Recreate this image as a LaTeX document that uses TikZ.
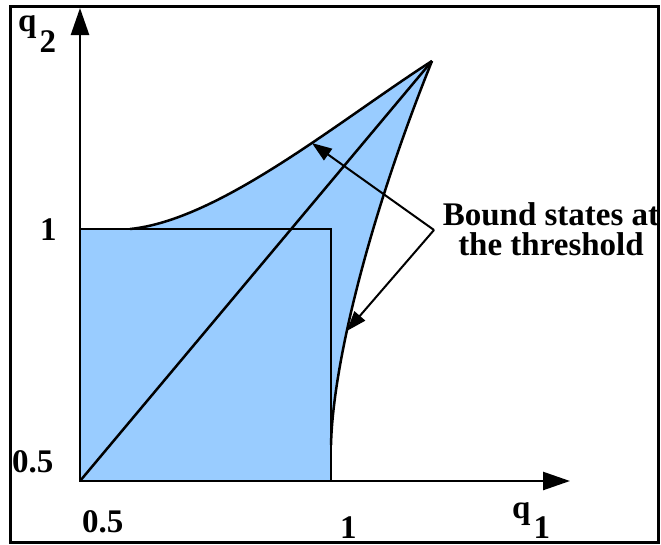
\documentclass[tikz,border=0pt]{standalone}
\usepackage{fontspec}
\setmainfont{Liberation Serif}
\usetikzlibrary{arrows.meta, positioning}
\definecolor{region}{RGB}{153,204,255}

\begin{document}
\begin{tikzpicture}[
  x=1pt, y=-1pt,
  every node/.style={font=\fontsize{33}{30}\selectfont\bfseries, inner sep=0pt},
  axis/.style={draw, line width=2.5pt, -{Triangle[length=27pt,width=18pt]}},
  pointer/.style={draw, line width=2pt, -{Triangle[length=20pt,width=14pt]}},
  border/.style={draw, line width=2.5pt},
]
\useasboundingbox (0,0) rectangle (661,544);
\draw[line width=3pt] (10,6) rectangle (658,542);

% corners of the picture
\coordinate (O) at (80,481);
\coordinate (Q) at (331,229);
\coordinate (c1) at (130,229);
\coordinate (c2) at (331,445);
\coordinate (tip) at (432,61);
\coordinate (xend) at (570,481);
\coordinate (yend) at (80,8);

% shaded region
\fill[region] (O) -- (80,229) -- (c1) .. controls (220,220) and (340,120) .. (tip)
  .. controls (372,210) and (333,360) .. (c2) -- (331,481) -- cycle;

% square, diagonal and the two curves
\draw[border] (O) rectangle (Q);
\draw[border] (O) -- (tip);
\draw[border] (c1) .. controls (220,220) and (340,120) .. (tip) coordinate[pos=0.6] (hit1);
\draw[border] (tip) .. controls (372,210) and (333,360) .. (c2) coordinate[pos=0.64] (hit2);

% axes
\draw[axis] (O) -- (xend);
\draw[axis] (O) -- (yend);

% labels
\node[anchor=base west] (xlo) at (82,532) {0.5};
\node[anchor=base west] (xhi) at (340,538) {1};
\node[anchor=base west] (ylo) at (12,472) {0.5};
\node[anchor=base west] (yhi) at (40,240) {1};
\node[anchor=base west] (ylab) at (18,31) {q\kern3pt\raisebox{-21pt}{2}};
\node[anchor=base west] (xlab) at (512,518) {q\kern3pt\raisebox{-20pt}{1}};

% note with its two pointers
\node[align=center] (note) at (551,229) {Bound states at\\the threshold};
\coordinate (fork) at (434,230);
\draw[pointer] (fork) -- (hit1);
\draw[pointer] (fork) -- (hit2);
\end{tikzpicture}
\end{document}
